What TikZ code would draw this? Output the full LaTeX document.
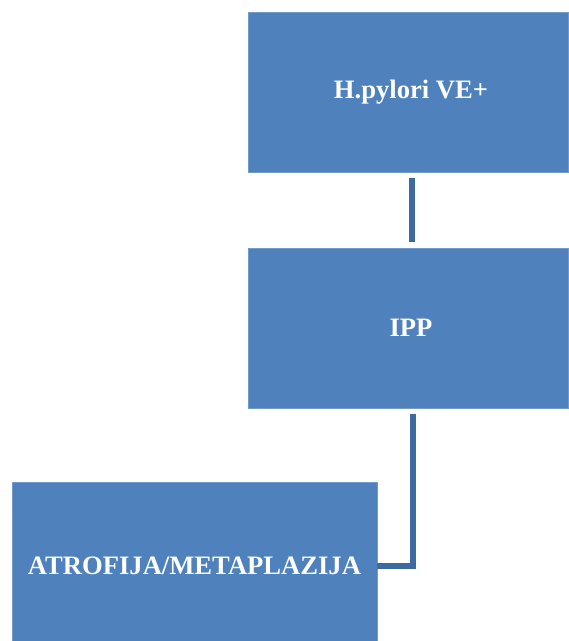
\documentclass[tikz,border=0pt]{standalone}
\usepackage{fontspec}
\setmainfont{Liberation Serif}
\usepackage{xcolor}
\usetikzlibrary{positioning,calc}

\definecolor{boxblue}{RGB}{79,129,189}
\definecolor{lineblue}{RGB}{62,106,163}

\begin{document}
\begin{tikzpicture}[
        x=0.5pt, y=-0.5pt,
        sbox/.style={rectangle, fill=boxblue, draw=boxblue!80!white, line width=0.4pt, inner sep=0pt,
            text=white, font=\fontsize{13.3}{16}\selectfont\bfseries},
        conn/.style={draw=lineblue, line width=2.7pt}
    ]
        \useasboundingbox (0,0) rectangle (568,641);

        % Nodes
        \node[sbox, minimum width=160pt, minimum height=80pt] (hp) at (408,92) {\hspace*{3pt}H.pylori VE+};
        \node[sbox, minimum width=160pt, minimum height=80pt] (ipp) at (408,328) {\hspace*{3pt}IPP};
        \node[sbox, minimum width=182.5pt, minimum height=80pt] (atro) at (194.5,562) {\raisebox{0pt}[12.5pt][0pt]{ATROFIJA/METAPLAZIJA}};

        % Edges
        \draw[conn, shorten <=3pt, shorten >=3pt] ([xshift=2pt]hp.south) -- ([xshift=2pt]ipp.south |- ipp.north);
        \draw[conn, shorten <=3pt] ([xshift=2.5pt]ipp.south) |- ([yshift=-2pt]atro.east);
\end{tikzpicture}
\end{document}
